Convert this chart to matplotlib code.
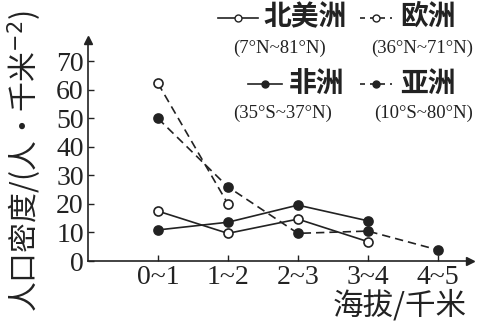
import matplotlib.pyplot as plt
from matplotlib.lines import Line2D

plt.rcParams['font.family'] = ['Liberation Serif', 'Noto Sans CJK SC']

# data
cats = ["0~1", "1~2", "2~3", "3~4", "4~5"]
na = [17.5, 9.7, 14.7, 6.8]        # 北美洲
eu = [62.3, 20.0]                   # 欧洲
af = [10.9, 13.6, 19.6, 14.1]       # 非洲
asia = [50.0, 26.0, 9.7, 10.5, 3.9]  # 亚洲
yticks = [0, 10, 20, 30, 40, 50, 60, 70]

ink = "#222222"
fig = plt.figure(figsize=(4.82, 3.27), dpi=100)
ax = fig.add_axes([0.1826, 0.2018, 0.7925, 0.6758])

xs = [1, 2, 3, 4, 5]
ax.plot(xs[:len(na)], na, "-o", color=ink, lw=1.2, ms=6.5, mfc="white", mew=1.2)
ax.plot(xs[:len(eu)], eu, "--o", color=ink, lw=1.2, ms=6.5, mfc="white", mew=1.2, dashes=(5, 3))
ax.plot(xs[:len(af)], af, "-o", color=ink, lw=1.2, ms=6.5, mfc=ink, mew=1.2)
ax.plot(xs[:len(asia)], asia, "--o", color=ink, lw=1.2, ms=6.5, mfc=ink, mew=1.2, dashes=(5, 3))

ax.set_xlim(0, 5.46)
ax.set_ylim(0, 77.5)
ax.set_xticks(xs)
ax.set_xticklabels(cats)
ax.set_yticks(yticks)
ax.tick_params(direction="in", length=4, width=1, colors=ink, labelsize=20, pad=3)
for s in ["top", "right"]:
    ax.spines[s].set_visible(False)
for s in ["left", "bottom"]:
    ax.spines[s].set_color(ink)
    ax.spines[s].set_linewidth(1.2)
ax.plot(1, 0, ">", color=ink, ms=6, transform=ax.get_yaxis_transform(), clip_on=False)
ax.plot(0, 1, "^", color=ink, ms=6, transform=ax.get_xaxis_transform(), clip_on=False)

cjk = ["Noto Sans CJK SC", "DejaVu Sans"]
fig.text(25 / 482, 1 - 161 / 327, "人口密度/(人·千米$^{-2}$)", rotation=90,
         ha="center", va="center", fontsize=21.5, color=ink, family=cjk)
fig.text(400 / 482, 1 - 306 / 327, "海拔/千米", ha="center", va="center",
         fontsize=22, color=ink, family=cjk)

# hand-made legend
def px(x, y):
    return x / 482, 1 - y / 327

def handle(x0, x1, y, filled, dashed):
    xa, ya = px(x0, y)
    xb, _ = px(x1, y)
    fig.add_artist(Line2D([xa, xb], [ya, ya], color=ink, lw=1.2,
                          ls="--" if dashed else "-", dashes=(3, 3) if dashed else (None, None)))
    xm, _ = px((x0 + x1) / 2, y)
    fig.add_artist(Line2D([xm], [ya], marker="o", ms=5, color=ink,
                          mfc=ink if filled else "white", mew=1))

handle(218, 258, 18, False, False)
fig.text(*px(305, 17), "北美洲", ha="center", va="center", fontsize=20, weight="bold", color=ink, family=cjk)
handle(360, 392, 18, False, True)
fig.text(*px(428, 17), "欧洲", ha="center", va="center", fontsize=20, weight="bold", color=ink, family=cjk)
fig.text(*px(279, 48), "(7°N~81°N)", ha="center", va="center", fontsize=13.5, color=ink)
fig.text(*px(422, 48), "(36°N~71°N)", ha="center", va="center", fontsize=13.5, color=ink)

handle(248, 282, 84, True, False)
fig.text(*px(317, 84), "非洲", ha="center", va="center", fontsize=20, weight="bold", color=ink, family=cjk)
handle(360, 392, 84, True, True)
fig.text(*px(428, 84), "亚洲", ha="center", va="center", fontsize=20, weight="bold", color=ink, family=cjk)
fig.text(*px(283, 113), "(35°S~37°N)", ha="center", va="center", fontsize=13.5, color=ink)
fig.text(*px(424, 113), "(10°S~80°N)", ha="center", va="center", fontsize=13.5, color=ink)

fig.savefig("out.png", dpi=100)
